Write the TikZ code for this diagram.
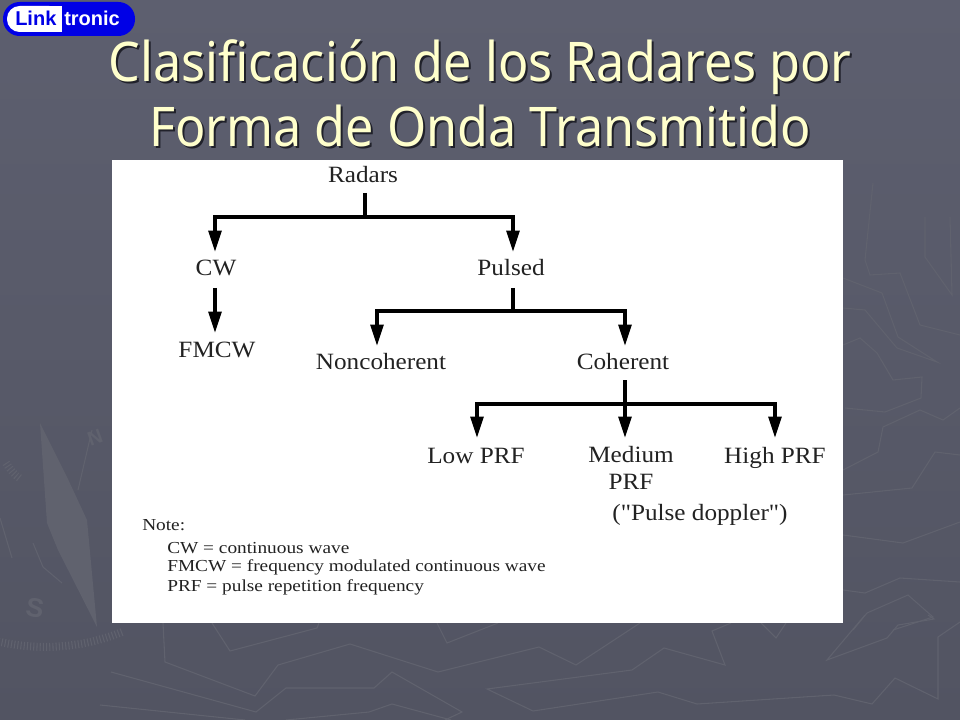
\documentclass[tikz,border=0pt]{standalone}
\usepackage{fontspec}
\setmainfont[FakeStretch=1.08]{Liberation Serif}
\newfontfamily\quotefont[FakeStretch=1.08]{Liberation Serif}
\newfontfamily\notefont[FakeStretch=1.15]{Liberation Serif}
\newfontfamily\titlefont[FakeStretch=0.92]{Noto Sans}
\newfontfamily\logofont{Liberation Sans}
\definecolor{slidetop}{HTML}{5D5F6F}
\definecolor{slidebot}{HTML}{525462}
\definecolor{slidemark}{HTML}{60626E}
\definecolor{titlecol}{HTML}{FFFFCC}
\definecolor{shadowcol}{HTML}{20212A}
\definecolor{logoblue}{HTML}{0000E6}
\definecolor{inkcol}{HTML}{222222}
\usetikzlibrary{arrows.meta}
\tikzset{
    treelabel/.style={font=\fontsize{17.5}{20}\selectfont, text=inkcol, inner sep=0pt, align=center},
    notelabel/.style={font=\notefont\fontsize{12.6}{15}\selectfont, text=inkcol, inner sep=0pt, anchor=west},
    titlelabel/.style={font=\titlefont\fontsize{41}{48.75}\selectfont, inner sep=0pt, align=center},
    logolabel/.style={font=\logofont\bfseries\fontsize{15}{18}\selectfont, inner sep=0pt},
    treeline/.style={line width=2.7pt, black},
    treearrow/.style={line width=2.7pt, black, -{Triangle[length=16pt,width=9.5pt]}},
    backmark/.style={slidemark, line width=0.8pt}
}
\begin{document}
\begin{tikzpicture}[x=0.75pt, y=-0.75pt]
    \useasboundingbox (0,0) rectangle (960,720);
    \shade[top color=slidetop, bottom color=slidebot] (0,0) rectangle (960,720);
    % faint map lines, bottom of the slide
    \draw[backmark] (163,623) -- (165,662) -- (255,696) -- (278,665) -- (350,644) -- (438,672) -- (539,647) -- (576,665) -- (640,623);
    \draw[backmark] (212,623) -- (230,651) -- (317,628) -- (319,623);
    \draw[backmark] (437,623) -- (447,643) -- (498,623);
    \draw[backmark] (100,705) -- (245,720);
    \draw[backmark] (111,672) -- (256,712) -- (286,688) -- (374,688) -- (392,672) -- (462,712) -- (445,720);
    \draw[backmark] (286,720) -- (369,712) -- (392,704) -- (451,720);
    \draw[backmark] (731,623) -- (712,631) -- (725,665) -- (664,648) -- (632,670) -- (487,689) -- (533,711) -- (658,692) -- (697,704) -- (834,695) -- (872,704) -- (895,678) -- (938,699) -- (938,637) -- (960,622);
    \draw[backmark] (761,623) -- (776,638) -- (786,623);
    \draw[backmark] (865,615) -- (827,660) -- (887,638) -- (898,625) -- (934,619) -- (928,615);
    % faint map lines, right of the panel
    \draw[backmark] (843,278) -- (882,293) -- (898,337) -- (937,362) -- (897,348) -- (865,310) -- (843,308);
    \draw[backmark] (873,183) -- (865,260) -- (870,275) -- (900,273) -- (920,325) -- (960,335);
    \draw[backmark] (925,217) -- (925,257) -- (952,295) -- (950,217);
    \draw[backmark] (843,345) -- (860,338) -- (877,353) -- (893,380) -- (922,377) -- (921,398) -- (885,412) -- (845,408);
    \draw[backmark] (843,470) -- (878,452) -- (883,427) -- (920,410) -- (943,420) -- (960,408);
    \draw[backmark] (843,495) -- (912,488) -- (935,452) -- (960,455);
    \draw[backmark] (843,535) -- (903,543) -- (960,522);
    \draw[backmark] (843,590) -- (865,593) -- (900,578) -- (960,582);
    \draw[backmark] (853,630) -- (867,613) -- (908,595) -- (933,617) -- (893,630);
    % compass on the left
    \fill[slidemark] (40,423) -- (47,523) -- (58,550) -- (97,627) -- (87,520) -- (67,477) -- cycle;
    \draw[slidemark, line width=6pt, dash pattern=on 0.8pt off 1.6pt] (122,632) arc (68:105:205);
    \draw[slidemark, line width=6pt, dash pattern=on 0.8pt off 1.6pt] (6,463) arc (150:125:50);
    \draw[backmark] (92,430) -- (78,490);
    \draw[backmark] (33,543) -- (43,567) -- (62,583);
    \draw[backmark] (0,518) -- (12,558);
    \node[font=\logofont\bfseries\fontsize{20}{20}\selectfont, text=slidemark, rotate=-10, inner sep=0pt] (compasss) at (35,608) {S};
    \node[font=\logofont\bfseries\fontsize{15}{15}\selectfont, text=slidemark, rotate=20, inner sep=0pt] (compassn) at (95,438) {N};
    % white panel
    \fill[white] (112,160) rectangle (843,623);
    % logo
    \fill[logoblue, rounded corners=12.5pt] (3,2) rectangle (135,36);
    \fill[white, rounded corners=9.5pt] (7,6) rectangle (62,32);
    \fill[white] (40,6) rectangle (62,32);
    \node[logolabel, text=logoblue, anchor=west] (logolink) at (15,18.5) {Link};
    \node[logolabel, text=white, anchor=west] (logotronic) at (64,18.5) {tronic};
    % title
    \node[titlelabel, text=shadowcol] (titleshadow) at (482,95) {Clasificación de los Radares por\\Forma de Onda Transmitido};
    \node[titlelabel, text=titlecol] (title) at (480,93) {Clasificación de los Radares por\\Forma de Onda Transmitido};
    % tree
    \node[treelabel] (radars) at (363,175) {Radars};
    \node[treelabel] (cw) at (216,268) {CW};
    \node[treelabel] (pulsed) at (511,268) {Pulsed};
    \node[treelabel] (fmcw) at (217,350) {FMCW};
    \node[treelabel] (noncoherent) at (381,362) {Noncoherent};
    \node[treelabel] (coherent) at (623,362) {Coherent};
    \node[treelabel] (lowprf) at (476,456) {Low PRF};
    \node[treelabel] (mediumprf) at (631,468) {Medium\\PRF};
    \node[treelabel] (highprf) at (775,458) {High PRF};
    \node[treelabel, font=\quotefont\fontsize{17.5}{20}\selectfont] (doppler) at (700,515) {("Pulse doppler")};
    \coordinate (radarsbar) at (365,217);
    \coordinate (pulsedbar) at (513,311);
    \coordinate (coherentbar) at (625,404);
    \draw[treeline] (365,193) -- (radarsbar);
    \draw[treearrow] (radarsbar) -| (215,252);
    \draw[treearrow] (radarsbar) -| (513,252);
    \draw[treearrow] (215,288) -- (215,333);
    \draw[treeline] (513,288) -- (pulsedbar);
    \draw[treearrow] (pulsedbar) -| (377,346);
    \draw[treearrow] (pulsedbar) -| (625,346);
    \draw[treearrow] (625,380) -- (625,438);
    \draw[treearrow] (coherentbar) -| (477,438);
    \draw[treearrow] (coherentbar) -| (775,438);
    % note
    \node[notelabel] (note) at (142,525) {Note:};
    \node[notelabel] (notecw) at (167,548) {CW = continuous wave};
    \node[notelabel] (notefmcw) at (167,567) {FMCW = frequency modulated continuous wave};
    \node[notelabel] (noteprf) at (167,587) {PRF = pulse repetition frequency};
\end{tikzpicture}
\end{document}
